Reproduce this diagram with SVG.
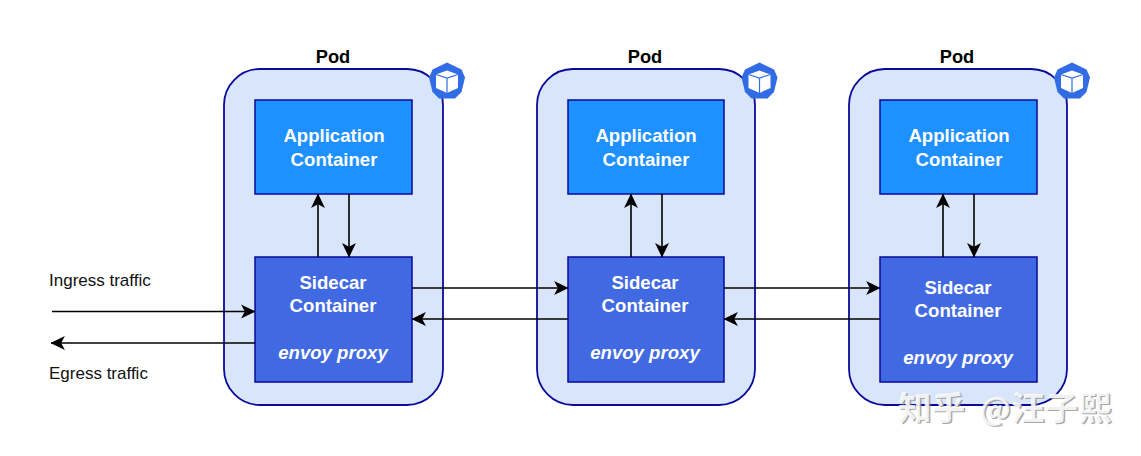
<svg xmlns="http://www.w3.org/2000/svg" width="1141" height="456" viewBox="0 0 1141 456">
<defs>
<marker id="ah" viewBox="0 0 14 14" refX="13" refY="7" markerWidth="15" markerHeight="15" markerUnits="userSpaceOnUse" orient="auto-start-reverse"><path d="M0 0.500L13.500 7L0 13.500L3.500 7Z" fill="#000"/></marker>
<g id="cube">
<path d="M0-18.500L14.500-11.500L18-3.500L14.500 11L8 17.500H-8L-14.500 11L-18-3.500L-14.500-11.500Z" fill="#326ce5"/>
<path d="M0-10.500L11-6.500V7L0 12L-11 7V-6.500Z" fill="#fff"/>
<path d="M-11-6.500L0-3L11-6.500M0-3V12" fill="none" stroke="#326ce5" stroke-width="1.200"/>
</g>
</defs>
<style>
text{font-family:"Liberation Sans",Arial,sans-serif}
.pod{fill:#d8e5fb;stroke:#0a0a9a;stroke-width:1.800}
.app{fill:#1e90ff;stroke:#0a0a9a;stroke-width:1.500}
.side{fill:#4169e1;stroke:#0a0a9a;stroke-width:1.500}
.t{fill:#fff;font-size:18.600px;font-weight:bold;text-anchor:middle}
.i{fill:#fff;font-size:18.600px;font-weight:bold;font-style:italic;text-anchor:middle}
.h{fill:#000;font-size:18.300px;font-weight:bold;text-anchor:middle}
.l{fill:#111;font-size:17px}
.c{fill:none;stroke:#000;stroke-width:1.600;marker-end:url(#ah)}
.w{font-family:"Noto Sans CJK SC",sans-serif;font-size:33.500px;font-weight:bold}
.at{font-size:31px}
.ws{fill:#8a8a8a;opacity:.75}
.wf{fill:#fff;opacity:.85}
</style>
<g id="pod1"><rect class="pod" x="224" y="69" width="219" height="336" rx="36"/><text class="h" x="333" y="63">Pod</text><use href="#cube" x="447" y="81"/></g>
<g id="pod2"><rect class="pod" x="537" y="69" width="218" height="336" rx="36"/><text class="h" x="645" y="63">Pod</text><use href="#cube" x="759.500" y="81"/></g>
<g id="pod3"><rect class="pod" x="849" y="69" width="218" height="336" rx="36"/><text class="h" x="957" y="63">Pod</text><use href="#cube" x="1072" y="81"/></g>
<g id="app1"><rect class="app" x="255" y="100" width="157" height="94"/><text class="t" x="334" y="142">Application</text><text class="t" x="334" y="165.500">Container</text></g>
<g id="app2"><rect class="app" x="568" y="100" width="156" height="94"/><text class="t" x="646" y="142">Application</text><text class="t" x="646" y="165.500">Container</text></g>
<g id="app3"><rect class="app" x="880" y="100" width="157" height="94"/><text class="t" x="959" y="142">Application</text><text class="t" x="959" y="165.500">Container</text></g>
<g id="sidecar1"><rect class="side" x="255" y="257" width="157" height="125"/><text class="t" x="333" y="289">Sidecar</text><text class="t" x="333" y="312">Container</text><text class="i" x="333" y="359">envoy proxy</text></g>
<g id="sidecar2"><rect class="side" x="568" y="257" width="156" height="125"/><text class="t" x="645" y="289">Sidecar</text><text class="t" x="645" y="312">Container</text><text class="i" x="645" y="359">envoy proxy</text></g>
<g id="sidecar3"><rect class="side" x="880" y="257" width="157" height="125"/><text class="t" x="958" y="293.500">Sidecar</text><text class="t" x="958" y="317">Container</text><text class="i" x="958" y="364">envoy proxy</text></g>
<g id="connectors">
<path class="c" d="M318 257V194"/><path class="c" d="M349 194V257"/>
<path class="c" d="M631 257V194"/><path class="c" d="M662 194V257"/>
<path class="c" d="M943 257V194"/><path class="c" d="M974 194V257"/>
<path class="c" d="M412 288H568"/><path class="c" d="M568 319H412"/>
<path class="c" d="M724 288H880"/><path class="c" d="M880 319H724"/>
<path class="c" d="M52 311.500H255"/><path class="c" d="M255 343H51"/>
</g>
<text class="l" x="49" y="285.500">Ingress traffic</text>
<text class="l" x="49" y="379">Egress traffic</text>
<g id="watermark">
<text class="w ws" x="899.500" y="421">知乎</text><text class="w at ws" x="981" y="421">@</text><text class="w ws" x="1012.500" y="421">汪子熙</text>
<text class="w wf" x="898" y="419.500">知乎</text><text class="w at wf" x="979.500" y="419.500">@</text><text class="w wf" x="1011" y="419.500">汪子熙</text>
</g>
</svg>
